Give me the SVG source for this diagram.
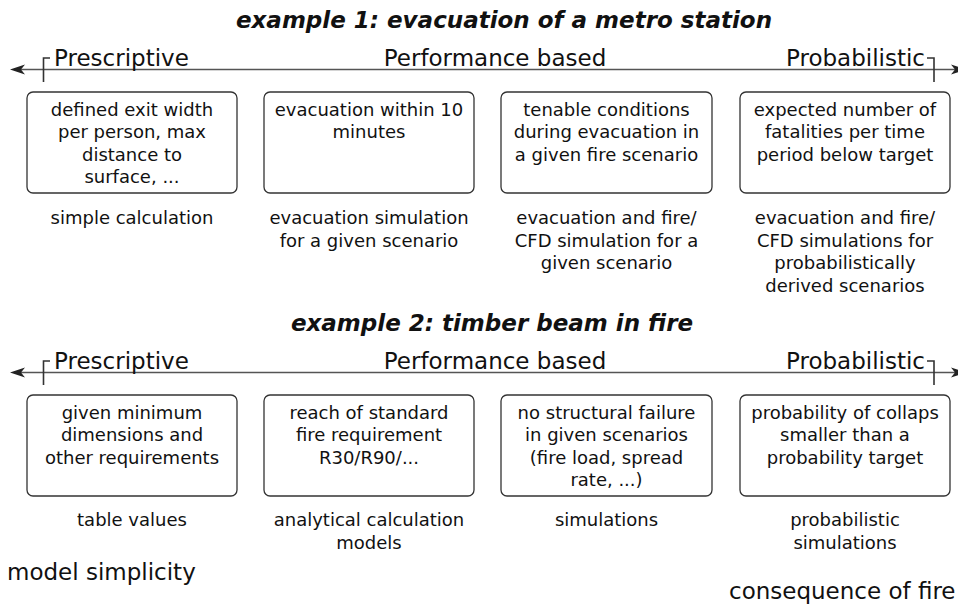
<svg xmlns="http://www.w3.org/2000/svg" width="958" height="606" viewBox="0 0 958 606">
<style>
text{font-family:"DejaVu Sans","Verdana","Liberation Sans",sans-serif;fill:#111}
.title{font-size:23px;font-weight:bold;font-style:italic;text-anchor:middle}
.hdr{font-size:23px}
.bt{font-size:18px;text-anchor:middle}
.box{fill:#fff;stroke:#333;stroke-width:1.3}
.axis{stroke:#555;stroke-width:1.3;fill:none}
.tick{stroke:#333;stroke-width:1.6;fill:none}
.big{font-size:23px}
</style>
<defs>
<path id="ahL" d="M0,0 L15,-5 L11,0 L15,5 Z" fill="#222"/>
</defs>
<rect width="958" height="606" fill="#fff"/>

<text class="title" x="504" y="28">example 1: evacuation of a metro station</text>
<text class="title" x="492" y="331">example 2: timber beam in fire</text>

<g id="connectors">
<line class="axis" x1="14" y1="69.5" x2="955" y2="69.5"/>
<use href="#ahL" x="10" y="69.5"/>
<use href="#ahL" transform="translate(966,69.5) scale(-1,1)"/>
<path class="tick" d="M50,58 H43.5 V82"/>
<path class="tick" d="M927,58 H934 V82"/>
<line class="axis" x1="14" y1="372.5" x2="955" y2="372.5"/>
<use href="#ahL" x="10" y="372.5"/>
<use href="#ahL" transform="translate(966,372.5) scale(-1,1)"/>
<path class="tick" d="M50,361 H43.5 V385"/>
<path class="tick" d="M927,361 H934 V385"/>
</g>

<g id="scale1">
<text class="hdr" x="54" y="66">Prescriptive</text>
<text class="hdr" x="495" y="66" text-anchor="middle">Performance based</text>
<text class="hdr" x="925" y="66" text-anchor="end">Probabilistic</text>
</g>
<g id="scale2">
<text class="hdr" x="54" y="369">Prescriptive</text>
<text class="hdr" x="495" y="369" text-anchor="middle">Performance based</text>
<text class="hdr" x="925" y="369" text-anchor="end">Probabilistic</text>
</g>

<g id="n1a">
<rect class="box" x="27" y="92" width="210" height="101" rx="6"/>
<text class="bt" x="132" y="116">defined exit width</text>
<text class="bt" x="132" y="138.3">per person, max</text>
<text class="bt" x="132" y="160.6">distance to</text>
<text class="bt" x="132" y="182.9">surface, ...</text>
</g>
<g id="n1b">
<rect class="box" x="264" y="92" width="210" height="101" rx="6"/>
<text class="bt" x="369" y="116">evacuation within 10</text>
<text class="bt" x="369" y="138.3">minutes</text>
</g>
<g id="n1c">
<rect class="box" x="501" y="92" width="211" height="101" rx="6"/>
<text class="bt" x="606.5" y="116">tenable conditions</text>
<text class="bt" x="606.5" y="138.3">during evacuation in</text>
<text class="bt" x="606.5" y="160.6">a given fire scenario</text>
</g>
<g id="n1d">
<rect class="box" x="740" y="92" width="210" height="101" rx="6"/>
<text class="bt" x="845" y="116">expected number of</text>
<text class="bt" x="845" y="138.3">fatalities per time</text>
<text class="bt" x="845" y="160.6">period below target</text>
</g>

<g id="m1a"><text class="bt" x="132" y="224">simple calculation</text></g>
<g id="m1b">
<text class="bt" x="369" y="224">evacuation simulation</text>
<text class="bt" x="369" y="246.5">for a given scenario</text>
</g>
<g id="m1c">
<text class="bt" x="606.5" y="224">evacuation and fire/</text>
<text class="bt" x="606.5" y="246.5">CFD simulation for a</text>
<text class="bt" x="606.5" y="269">given scenario</text>
</g>
<g id="m1d">
<text class="bt" x="845" y="224">evacuation and fire/</text>
<text class="bt" x="845" y="246.5">CFD simulations for</text>
<text class="bt" x="845" y="269">probabilistically</text>
<text class="bt" x="845" y="291.5">derived scenarios</text>
</g>

<g id="n2a">
<rect class="box" x="27" y="395" width="210" height="101" rx="6"/>
<text class="bt" x="132" y="419">given minimum</text>
<text class="bt" x="132" y="441.3">dimensions and</text>
<text class="bt" x="132" y="463.6">other requirements</text>
</g>
<g id="n2b">
<rect class="box" x="264" y="395" width="210" height="101" rx="6"/>
<text class="bt" x="369" y="419">reach of standard</text>
<text class="bt" x="369" y="441.3">fire requirement</text>
<text class="bt" x="369" y="463.6">R30/R90/...</text>
</g>
<g id="n2c">
<rect class="box" x="501" y="395" width="211" height="101" rx="6"/>
<text class="bt" x="606.5" y="419">no structural failure</text>
<text class="bt" x="606.5" y="441.3">in given scenarios</text>
<text class="bt" x="606.5" y="463.6">(fire load, spread</text>
<text class="bt" x="606.5" y="485.9">rate, ...)</text>
</g>
<g id="n2d">
<rect class="box" x="740" y="395" width="210" height="101" rx="6"/>
<text class="bt" x="845" y="419">probability of collaps</text>
<text class="bt" x="845" y="441.3">smaller than a</text>
<text class="bt" x="845" y="463.6">probability target</text>
</g>

<g id="m2a"><text class="bt" x="132" y="526">table values</text></g>
<g id="m2b">
<text class="bt" x="369" y="526">analytical calculation</text>
<text class="bt" x="369" y="548.5">models</text>
</g>
<g id="m2c"><text class="bt" x="606.5" y="526">simulations</text></g>
<g id="m2d">
<text class="bt" x="845" y="526">probabilistic</text>
<text class="bt" x="845" y="548.5">simulations</text>
</g>

<g id="left-label"><text class="big" x="7" y="580">model simplicity</text></g>
<g id="right-label"><text class="big" x="729" y="599">consequence of fire</text></g>
</svg>
